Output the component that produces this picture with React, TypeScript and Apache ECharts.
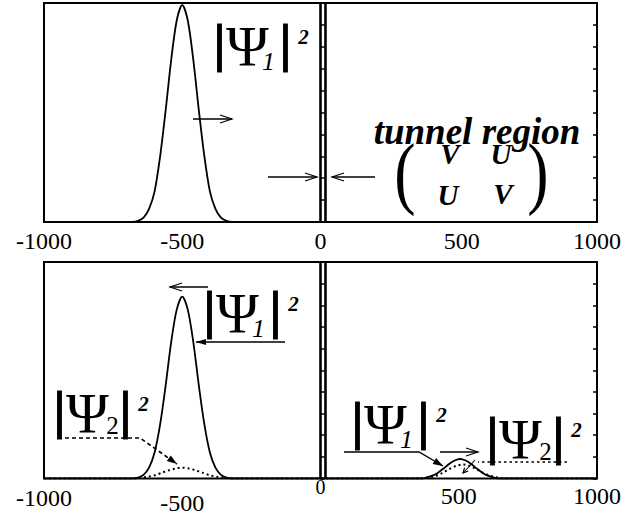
import React, { useEffect, useRef } from "react";
import * as echarts from "echarts";

// Position axis (both panels)
const xMin = -1000;
const xMax = 1000;
const xStep = 500;

// Walls of the tunnel region
const tunnelEdges = [0, 18];

// Upper panel: incoming packet |Ψ1|²
const upperX = [-1000, -680, -660, -640, -620, -600, -580, -560, -540, -520, -500, -480, -460, -440, -420, -400, -380, -360, -340, -320, 1000];
const upperPsi1 = [0, 0, 0.005, 0.02, 0.06, 0.14, 0.3, 0.51, 0.74, 0.92, 0.99, 0.92, 0.74, 0.51, 0.3, 0.14, 0.06, 0.02, 0.005, 0, 0];

// Lower panel: reflected and transmitted |Ψ1|²
const lowerX1 = [-1000, -680, -660, -640, -620, -600, -580, -560, -540, -520, -500, -480, -460, -440, -420, -400, -380, -360, -340, -320,
  365, 385, 405, 425, 445, 465, 485, 505, 525, 545, 565, 585, 605, 625, 645, 1000];
const lowerPsi1 = [0, 0, 0.004, 0.017, 0.05, 0.12, 0.25, 0.43, 0.63, 0.78, 0.84, 0.78, 0.63, 0.43, 0.25, 0.12, 0.05, 0.017, 0.004, 0,
  0, 0.005, 0.013, 0.027, 0.046, 0.067, 0.083, 0.09, 0.083, 0.067, 0.046, 0.027, 0.013, 0.005, 0, 0];

// Lower panel: |Ψ2|² (dotted)
const lowerX2 = [-1000, -675, -650, -625, -600, -575, -550, -525, -500, -475, -450, -425, -400, -375, -350, -325,
  365, 390, 415, 440, 465, 490, 515, 540, 565, 590, 615, 640, 665, 1000];
const lowerPsi2 = [0, 0, 0.003, 0.008, 0.015, 0.026, 0.037, 0.046, 0.05, 0.046, 0.037, 0.026, 0.015, 0.008, 0.003, 0,
  0, 0.005, 0.012, 0.025, 0.043, 0.058, 0.065, 0.058, 0.043, 0.025, 0.012, 0.005, 0, 0];

const INK = "#000";
const SERIF = '"Liberation Serif", "Times New Roman", serif';
const CENTRAL = 0.3375; // central baseline above alphabetic, in em

const pairs = (xs: number[], ys: number[]) => xs.map((x, i) => [x, ys[i]]);

function txt(text: string, cx: number, baseline: number, size: number, weight = "normal", style = "normal", extra: any = {}, el: any = {}) {
  return {
    type: "text",
    x: cx,
    y: baseline - CENTRAL * size,
    ...el,
    style: {
      text,
      font: `${style} ${weight} ${size}px ${SERIF}`,
      fill: INK,
      align: "center",
      textAlign: "center",
      verticalAlign: "middle",
      textVerticalAlign: "middle",
      ...extra,
    },
  };
}

// |Ψ_n|² built from separate glyphs; bx = centre of the first bar, top = top of the bars
function psiLabel(bx: number, top: number, sub: string) {
  const italicSub = sub === "1";
  const barStyle = { stroke: INK, lineWidth: 1.2 };
  return {
    type: "group",
    children: [
      txt("|", bx, top + 36, 52, "bold", "normal", barStyle),
      txt("Ψ", bx + 28, top + 41, 58),
      italicSub ? txt(sub, bx + 49, top + 45, 26, "normal", "italic") : txt(sub, bx + 53, top + 42, 25),
      txt("|", bx + 66, top + 36, 52, "bold", "normal", barStyle),
      txt("2", bx + 84, top + 19, 21, "bold", "italic"),
    ],
  };
}

function seg(pts: number[][], w = 1.3, dash?: number[]) {
  return {
    type: "polyline",
    shape: { points: pts },
    style: { stroke: INK, lineWidth: w, fill: null, lineDash: dash },
  };
}

function head(from: number[], tip: number[], filled: boolean, len = 12, half = 4) {
  const dx = tip[0] - from[0];
  const dy = tip[1] - from[1];
  const d = Math.hypot(dx, dy) || 1;
  const ux = dx / d, uy = dy / d;
  const nx = -uy, ny = ux;
  const b1 = [tip[0] - len * ux + half * nx, tip[1] - len * uy + half * ny];
  const b2 = [tip[0] - len * ux - half * nx, tip[1] - len * uy - half * ny];
  return filled
    ? { type: "polygon", shape: { points: [b1, tip, b2] }, style: { fill: INK } }
    : { type: "polyline", shape: { points: [b1, tip, b2] }, style: { stroke: INK, lineWidth: 1.2, fill: null } };
}

function arrow(pts: number[][], filled = false, w = 1.3, dash?: number[], len = 12, half = 4) {
  const n = pts.length;
  return {
    type: "group",
    children: [seg(pts, w, dash), head(pts[n - 2], pts[n - 1], filled, len, half)],
  };
}

const lineSeries = (name: string, data: number[][], grid: number, extra: any = {}) => ({
  name,
  type: "line",
  xAxisIndex: grid,
  yAxisIndex: grid * 2,
  data,
  showSymbol: false,
  smooth: 0.3,
  lineStyle: { color: INK, width: 1.8, ...extra },
  z: 3,
});

const tunnelSeries = (grid: number) =>
  tunnelEdges.map((e, i) => ({
    name: `wall${grid}-${i}`,
    type: "line",
    xAxisIndex: grid,
    yAxisIndex: grid * 2,
    data: [[e, 0], [e, 1]],
    showSymbol: false,
    lineStyle: { color: INK, width: 2.6 },
    z: 4,
  }));

function xAxis(grid: number) {
  const rich =
    grid === 0
      ? { n: {}, s: { padding: [0, 0, 0, 6] } }
      : { n: {}, w: { padding: [2, 0, 0, 0] }, low: { padding: [7, 0, 0, 0] }, zero: { fontSize: 20, lineHeight: 6 } };
  return {
    type: "value",
    gridIndex: grid,
    min: xMin,
    max: xMax,
    interval: xStep,
    axisLine: { show: false },
    axisTick: { show: false },
    splitLine: { show: false },
    axisLabel: {
      margin: grid === 0 ? 7 : 5,
      fontFamily: SERIF,
      fontSize: 24,
      color: INK,
      formatter: (v: number) => {
        if (grid === 0) return v === 500 ? `{s|${v}}` : `{n|${v}}`;
        if (v === -500) return `{low|${v}}`;
        if (v === 0) return `{zero|${v}}`;
        if (v === -1000) return `{w|${v}}`;
        return `{n|${v}}`;
      },
      rich,
    },
  };
}

function yAxis(grid: number, position: "left" | "right") {
  return {
    type: "value",
    gridIndex: grid,
    position,
    min: 0,
    max: 1,
    interval: 0.1,
    axisLine: { show: false },
    axisLabel: { show: false },
    splitLine: { show: false },
    axisTick: { show: true, inside: true, length: 4, lineStyle: { color: INK, width: 1.5 } },
  };
}

export default function App() {
  const ref = useRef<HTMLDivElement>(null);

  useEffect(() => {
    if (!ref.current) return;
    const chart = echarts.init(ref.current, null, { renderer: "svg" });

    const graphics: any[] = [
      // upper panel annotations
      psiLabel(219.5, 25, "1"),
      arrow([[193, 119], [232, 119]]),
      arrow([[268, 177], [317, 177]]),
      arrow([[375, 177], [332, 177]]),
      txt("tunnel region", 477, 144, 37, "bold", "italic"),
      txt("(", 405, 199, 80, "normal", "normal", {}, { scaleX: 0.8 }),
      txt(")", 538, 199, 80, "normal", "normal", {}, { scaleX: 0.8 }),
      txt("V", 450, 164, 29, "bold", "italic"),
      txt("U", 501, 164, 29, "bold", "italic"),
      txt("U", 448, 205, 29, "bold", "italic"),
      txt("V", 503, 204, 29, "bold", "italic"),

      // lower panel annotations
      arrow([[208, 287], [170, 287]]),
      psiLabel(209.5, 292, "1"),
      arrow([[285, 342], [196, 342]], true, 1.4, undefined, 10, 3),
      psiLabel(59.5, 392, "2"),
      arrow([[58, 438], [140, 438], [177, 464]], true, 1.6, [4, 3], 10, 3.5),
      psiLabel(357.5, 403, "1"),
      arrow([[344, 452], [419, 452], [443, 466]], true, 1.4, undefined, 10, 3.5),
      arrow([[440, 452], [478, 452]]),
      psiLabel(492.5, 418, "2"),
      seg([[567, 462], [478, 462]], 1.6, [2.5, 3]),
      arrow([[475, 460], [463, 473]], false, 1.1, undefined, 5, 2.5),
    ];

    chart.setOption({
      animation: false,
      backgroundColor: "#fff",
      grid: [
        { left: 44, top: 3, width: 553, height: 219, show: true, borderColor: INK, borderWidth: 2, backgroundColor: "transparent" },
        { left: 44, top: 262, width: 553, height: 216.5, show: true, borderColor: INK, borderWidth: 2, backgroundColor: "transparent" },
      ],
      xAxis: [xAxis(0), xAxis(1)],
      yAxis: [yAxis(0, "left"), yAxis(0, "right"), yAxis(1, "left"), yAxis(1, "right")],
      series: [
        lineSeries("|Ψ1|² (upper)", pairs(upperX, upperPsi1), 0),
        lineSeries("|Ψ1|² (lower)", pairs(lowerX1, lowerPsi1), 1),
        lineSeries("|Ψ2|² (lower)", pairs(lowerX2, lowerPsi2), 1, { type: [2, 3], width: 2 }),
        ...tunnelSeries(0),
        ...tunnelSeries(1),
      ],
      graphic: { elements: graphics },
    });

    return () => chart.dispose();
  }, []);

  return <div ref={ref} style={{ position: "absolute", left: 0, top: 0, width: 644, height: 517 }} />;
}
